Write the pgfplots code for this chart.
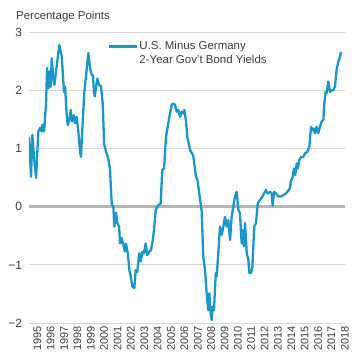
\documentclass[border=0pt]{standalone}
\usepackage{fontspec}
\setmainfont{Liberation Sans}
\usepackage{pgfplots}
\pgfplotsset{compat=1.18}
\definecolor{lineblue}{HTML}{1B96C8}
\definecolor{gridgray}{HTML}{D6D6D6}
\definecolor{zerogray}{HTML}{B6B6B6}
\definecolor{txt}{HTML}{3C3C3C}
\begin{document}
\begin{tikzpicture}
\begin{axis}[
  scale only axis, width=316bp, height=290.3bp,
  xmin=1994.60, xmax=2018.24, ymin=-2, ymax=3,
  axis line style={draw=none},
  major tick length=0pt,
  ymajorgrids, grid style={gridgray, line width=1bp},
  ytick={-2,-1,0,1,2,3},
  yticklabels={−2,−1,0,1,2,3},
  yticklabel style={font=\fontsize{12}{12}\selectfont, text=txt, xshift=-3.5bp},
  xtick={1995,1996,1997,1998,1999,2000,2001,2002,2003,2004,2005,2006,2007,2008,2009,2010,2011,2012,2013,2014,2015,2016,2017,2018},
  xticklabels={1995,1996,1997,1998,1999,2000,2001,2002,2003,2004,2005,2006,2007,2008,2009,2010,2011,2012,2013,2014,2015,2016,2017,2018},
  xticklabel style={rotate=90, anchor=east, font=\fontsize{11}{11}\selectfont, text=txt, yshift=-3bp},
  extra y ticks={0}, extra y tick labels={},
  extra y tick style={grid style={zerogray, line width=3bp}},
  legend style={draw=none, fill=none, at={(rel axis cs:0.2405,0.985)}, anchor=north west,
    font=\fontsize{11.5}{11.5}\selectfont, text=txt, row sep=0bp,
    nodes={inner sep=1bp, text height=9bp, text depth=3.5bp}},
  legend cell align=left,
  legend image code/.code={\draw[#1] (0bp,0bp) -- (28bp,0bp);},
]
\addplot[lineblue, line width=2.3bp, line join=round] coordinates {
(1994.60,1.21)(1994.75,0.52)(1994.85,1.24)(1994.98,0.84)(1995.13,0.50)(1995.30,1.30)
(1995.43,1.36)(1995.55,1.30)(1995.60,1.41)(1995.73,1.30)(1995.88,1.81)(1995.95,2.39)
(1996.05,2.04)(1996.12,2.33)(1996.23,2.07)(1996.30,2.56)(1996.40,2.27)(1996.50,2.10)
(1996.68,2.44)(1996.87,2.79)(1997.05,2.59)(1997.22,1.98)(1997.30,2.07)(1997.42,1.58)
(1997.50,1.41)(1997.62,1.50)(1997.72,1.67)(1997.82,1.47)(1997.95,1.58)(1998.04,1.44)
(1998.17,1.55)(1998.29,1.30)(1998.42,0.95)(1998.49,0.86)(1998.59,1.35)(1998.74,1.98)
(1998.87,2.27)(1999.04,2.65)(1999.17,2.39)(1999.29,2.27)(1999.39,2.27)(1999.45,2.00)
(1999.52,1.90)(1999.64,2.10)(1999.71,2.21)(1999.84,2.10)(1999.99,2.08)(2000.12,1.76)
(2000.22,1.08)(2000.37,0.95)(2000.53,0.83)(2000.66,0.65)(2000.79,0.05)(2000.91,0.00)
(2000.98,-0.34)(2001.11,-0.10)(2001.21,-0.28)(2001.34,-0.34)(2001.41,-0.63)(2001.54,-0.54)
(2001.66,-0.66)(2001.78,-0.77)(2001.86,-0.63)(2001.99,-0.80)(2002.11,-1.09)(2002.21,-1.20)
(2002.33,-1.37)(2002.48,-1.40)(2002.58,-1.09)(2002.70,-1.12)(2002.85,-0.80)(2002.96,-0.94)
(2003.08,-0.77)(2003.20,-0.80)(2003.33,-0.63)(2003.45,-0.83)(2003.60,-0.77)(2003.73,-0.74)
(2003.86,-0.57)(2003.95,-0.40)(2004.08,-0.05)(2004.27,0.03)(2004.45,0.06)(2004.57,0.64)
(2004.70,0.66)(2004.85,1.21)(2005.02,1.44)(2005.15,1.61)(2005.28,1.76)(2005.40,1.78)
(2005.52,1.76)(2005.65,1.64)(2005.77,1.67)(2005.90,1.55)(2006.02,1.64)(2006.14,1.61)
(2006.22,1.67)(2006.35,1.47)(2006.44,1.21)(2006.65,0.98)(2006.89,0.88)(2007.09,0.52)
(2007.20,0.47)(2007.34,0.23)(2007.52,-0.08)(2007.64,-0.86)(2007.77,-1.09)(2007.89,-1.49)
(2008.01,-1.78)(2008.09,-1.49)(2008.19,-1.83)(2008.27,-1.95)(2008.34,-1.72)(2008.44,-1.78)
(2008.57,-1.14)(2008.64,-1.20)(2008.76,-0.80)(2008.89,-0.34)(2009.02,-0.48)(2009.14,-0.34)
(2009.26,-0.17)(2009.39,-0.34)(2009.51,-0.23)(2009.64,-0.57)(2009.76,-0.17)(2009.88,0.00)
(2010.01,0.18)(2010.14,0.26)(2010.26,-0.05)(2010.38,-0.11)(2010.51,-0.63)(2010.59,-0.40)
(2010.68,-0.68)(2010.76,-0.28)(2010.89,-0.80)(2011.01,-0.91)(2011.08,-1.14)(2011.21,-1.14)
(2011.31,-1.03)(2011.45,-0.34)(2011.58,-0.28)(2011.71,0.06)(2011.88,0.12)(2012.00,0.15)
(2012.18,0.23)(2012.33,0.29)(2012.45,0.23)(2012.63,0.26)(2012.75,0.23)(2012.83,0.02)
(2012.93,0.26)(2013.08,0.23)(2013.25,0.18)(2013.43,0.18)(2013.62,0.20)(2013.85,0.24)
(2014.00,0.28)(2014.12,0.32)(2014.18,0.43)(2014.33,0.52)(2014.42,0.66)(2014.52,0.55)
(2014.63,0.75)(2014.72,0.66)(2014.82,0.81)(2014.95,0.86)(2015.12,0.86)(2015.25,0.92)
(2015.42,0.95)(2015.57,1.04)(2015.70,1.38)(2015.79,1.32)(2015.87,1.35)(2016.00,1.27)
(2016.12,1.38)(2016.24,1.27)(2016.37,1.38)(2016.50,1.47)(2016.62,1.50)(2016.69,1.78)
(2016.79,1.98)(2016.87,1.96)(2016.99,2.16)(2017.12,1.98)(2017.24,2.01)(2017.36,2.01)
(2017.49,2.07)(2017.61,2.36)(2017.74,2.50)(2017.87,2.59)(2017.94,2.67)
};
\addlegendentry{U.S. Minus Germany}
\addlegendimage{empty legend}
\addlegendentry{2-Year Gov't Bond Yields}
\end{axis}
\node[anchor=base west, font=\fontsize{11.5}{11.5}\selectfont, text=txt, inner sep=0pt] at (-13bp,303.5bp) {Percentage Points};
\pgfresetboundingbox
\useasboundingbox (-29bp,-41bp) rectangle (331bp,323bp);
\end{tikzpicture}
\end{document}
